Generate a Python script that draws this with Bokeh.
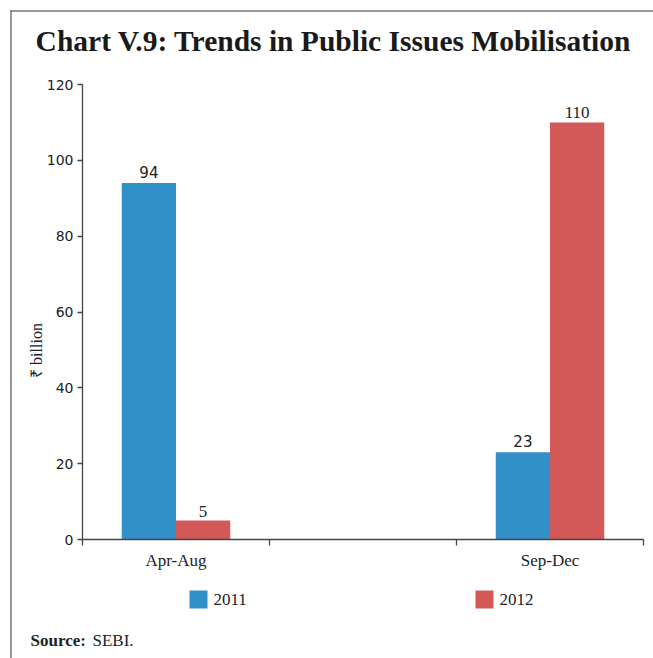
import math
from bokeh.plotting import figure
from bokeh.models import ColumnDataSource, FixedTicker, Range1d, LinearAxis
from bokeh.core.properties import value
from bokeh.embed import file_html
from bokeh.resources import INLINE

# ---- data ----
categories = ["Apr-Aug", "", "Sep-Dec"]
series_names = ["2011", "2012"]
series_2011 = [94, None, 23]
series_2012 = [5, None, 110]
y_ticks = [0, 20, 40, 60, 80, 100, 120]
title_text = "Chart V.9: Trends in Public Issues Mobilisation"
y_label = "₹ billion"
source_head = "Source:"
source_text = "SEBI."

BLUE = "#3290C8"
RED = "#D35858"
SERIF = "Liberation Serif"
SANS = "DejaVu Sans"
INK = "#222222"
FRAME = "#333333"

# ---- page layout (pixels) ----
PAGE_W, PAGE_H = 653, 658
PLOT_L, PLOT_R, PLOT_T, PLOT_B = 82, 643, 84, 539
Y_MAX = 120
N = len(categories)

sx = (PLOT_R - PLOT_L) / N          # px per x unit
sy = (PLOT_B - PLOT_T) / Y_MAX      # px per y unit


def dx(px):
    return (px - PLOT_L) / sx


def dy(py):
    return (PLOT_B - py) / sy


p = figure(width=PAGE_W, height=PAGE_H, output_backend="svg", toolbar_location=None,
           x_axis_location=None, y_axis_location=None,
           x_range=Range1d(dx(0), dx(PAGE_W)), y_range=Range1d(dy(PAGE_H), dy(0)),
           min_border=0, min_border_left=0, min_border_right=0,
           min_border_top=0, min_border_bottom=0)
p.outline_line_color = None
p.grid.visible = False

# ---- bars ----
bw = 0.29


def build(vals, offset):
    xs, ys, lbl = [], [], []
    for i, v in enumerate(vals):
        if v is None:
            continue
        xs.append(i + 0.5 + offset)
        ys.append(v)
        lbl.append(str(v))
    return ColumnDataSource(dict(x=xs, top=ys, label=lbl))


s11 = build(series_2011, -bw / 2)
s12 = build(series_2012, bw / 2)
p.vbar(x="x", top="top", width=bw, source=s11, fill_color=BLUE, line_color=None)
p.vbar(x="x", top="top", width=bw, source=s12, fill_color=RED, line_color=None)

p.text(x="x", y="top", text="label", source=s11, text_align="center",
       text_baseline="bottom", y_offset=-5, text_font=value(SANS),
       text_font_size="15px", text_color=INK)
p.text(x="x", y="top", text="label", source=s12, text_align="center",
       text_baseline="bottom", y_offset=-4, text_font=value(SERIF),
       text_font_size="17px", text_color=INK)

# ---- axes (fixed at the data origin) ----
xa = LinearAxis(fixed_location=0, bounds=(0, N))
xa.ticker = FixedTicker(ticks=[i + 0.5 for i in range(N)], minor_ticks=list(range(N + 1)))
xa.major_label_overrides = {i + 0.5: c for i, c in enumerate(categories)}
xa.major_tick_out = 0
xa.major_tick_in = 0
xa.minor_tick_out = 6
xa.minor_tick_in = 0
xa.major_label_text_font = SERIF
xa.major_label_text_font_size = "17px"
xa.major_label_text_color = INK
xa.major_label_standoff = 5
xa.axis_line_color = "#444444"
xa.minor_tick_line_color = "#444444"
xa.axis_line_width = 1.3
xa.minor_tick_line_width = 1.3
p.add_layout(xa, "below")

ya = LinearAxis(fixed_location=0, bounds=(0, Y_MAX))
ya.ticker = FixedTicker(ticks=y_ticks, minor_ticks=[])
ya.major_tick_out = 5
ya.major_tick_in = 0
ya.minor_tick_out = 0
ya.major_label_text_font = SANS
ya.major_label_text_font_size = "14px"
ya.major_label_text_color = INK
ya.major_label_standoff = 4
ya.axis_line_color = "#444444"
ya.major_tick_line_color = "#444444"
ya.axis_line_width = 1.3
ya.major_tick_line_width = 1.3
p.add_layout(ya, "left")

# y-axis title (placed lower than the frame centre, as in the original)
p.text(x=[dx(36)], y=[dy(350)], text=[y_label], angle=math.pi / 2,
       text_align="center", text_baseline="middle", text_font=value(SERIF),
       text_font_size="16px", text_color=INK)

# ---- outer frame (top & left edges) ----
p.segment(x0=[dx(10.5), dx(10)], y0=[dy(PAGE_H), dy(10.5)],
          x1=[dx(10.5), dx(PAGE_W)], y1=[dy(10), dy(10.5)],
          line_color=FRAME, line_width=1)

# ---- title ----
p.text(x=[dx(333)], y=[dy(40)], text=[title_text], text_align="center",
       text_baseline="middle", text_font=value(SERIF), text_font_style="bold",
       text_font_size="29.5px", text_color="#1a1a1a")

# ---- legend ----
leg_px = [198, 484]
p.rect(x=[dx(v) for v in leg_px], y=[dy(599)] * 2, width=18, height=18,
       width_units="screen", height_units="screen",
       fill_color=[BLUE, RED], line_color=None)
p.text(x=[dx(v + 15) for v in leg_px], y=[dy(599)] * 2, text=series_names,
       text_align="left", text_baseline="middle", text_font=value(SERIF),
       text_font_size="17px", text_color=INK)

# ---- source ----
p.text(x=[dx(30)], y=[dy(640)], text=[source_head], text_align="left",
       text_baseline="middle", text_font=value(SERIF), text_font_style="bold",
       text_font_size="17px", text_color=INK)
p.text(x=[dx(92)], y=[dy(640)], text=[source_text], text_align="left",
       text_baseline="middle", text_font=value(SERIF), text_font_size="17px",
       text_color=INK)

open("out.html", "w").write(file_html(p, INLINE))
